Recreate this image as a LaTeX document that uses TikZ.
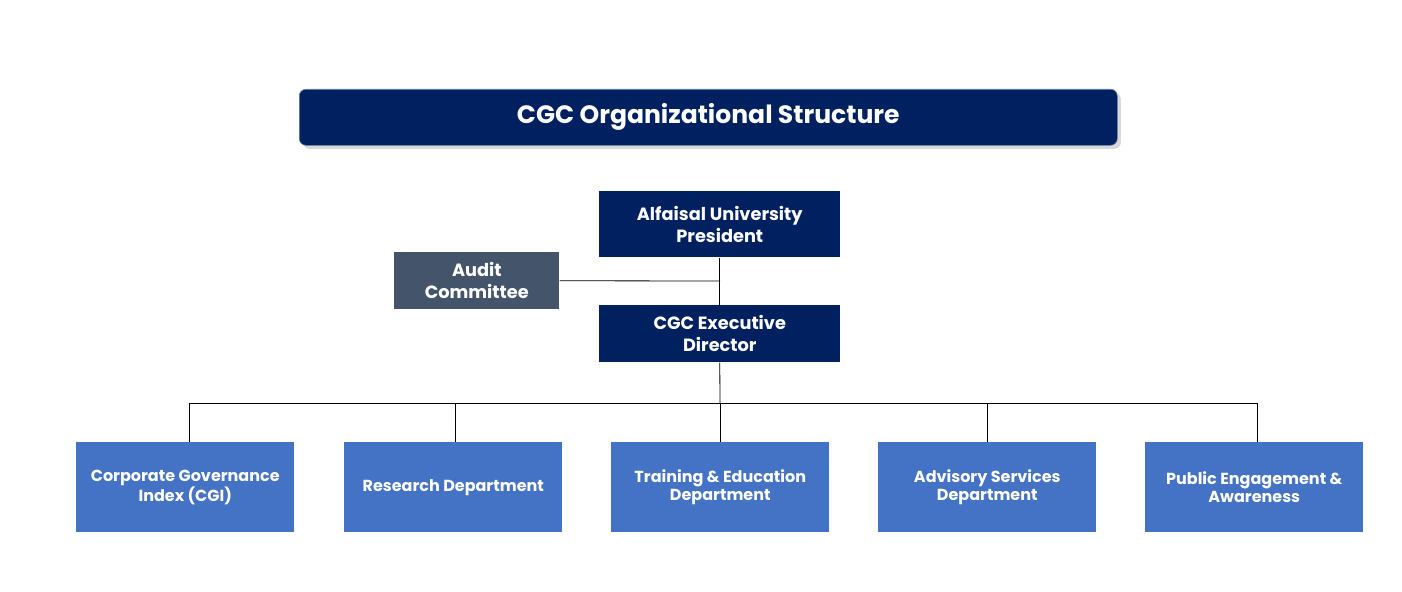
\documentclass[tikz,border=0pt]{standalone}
\usepackage{fontspec}
\setmainfont{Poppins}
\usetikzlibrary{shadows}
\definecolor{navy}{HTML}{002060}
\definecolor{slate}{HTML}{44546A}
\definecolor{blu}{HTML}{4472C4}
\begin{document}
\begin{tikzpicture}[x=0.75pt,y=-0.75pt,
  box/.style={anchor=north west,inner sep=0pt,text=white,align=center,font=\bfseries},
  ln/.style={draw=black,line width=0.6pt}]
\useasboundingbox[fill=white] (0,0) rectangle (1402,592);
\node[box,fill=navy,rounded corners=5pt,minimum width=818*0.75pt,minimum height=56*0.75pt,draw=navy!60,drop shadow={opacity=0.3},font=\bfseries\fontsize{18.8}{20}\selectfont] (title) at (299,89) {CGC Organizational Structure};
\node[box,fill=navy,minimum width=241*0.75pt,minimum height=66*0.75pt,font=\bfseries\fontsize{13.3}{16.5}\selectfont] (pres) at (599,191) {Alfaisal University\\President};
\node[box,fill=slate,minimum width=165*0.75pt,minimum height=57*0.75pt,font=\bfseries\fontsize{13.3}{16.5}\selectfont] (audit) at (394,252) {Audit\\Committee};
\node[box,fill=navy,minimum width=241*0.75pt,minimum height=57*0.75pt,font=\bfseries\fontsize{13.3}{16.5}\selectfont] (exec) at (599,305) {CGC Executive\\Director};
\tikzset{dept/.style={box,fill=blu,minimum width=218*0.75pt,minimum height=90*0.75pt,font=\bfseries\fontsize{12}{13.5}\selectfont}}
\node[dept] (d1) at (76,442) {Corporate Governance\\Index (CGI)};
\node[dept] (d2) at (344,442) {Research Department};
\node[dept] (d3) at (611,442) {Training \& Education\\Department};
\node[dept] (d4) at (878,442) {Advisory Services\\Department};
\node[dept] (d5) at (1145,442) {Public Engagement \&\\Awareness};
\coordinate (j) at (720,281);
\coordinate (bus) at (720,403);
\draw[ln] (pres.south) -- (exec.north);
\draw[ln] (audit.east) -- (j);
\draw[ln] (exec.south) -- (bus);
\draw[ln] (189,403) -- (1257,403);
\foreach \n/\x in {d1/189,d2/455,d3/720,d4/987,d5/1257}
  \draw[ln] (\x,403) -- (\n.north -| \x,403);
\end{tikzpicture}
\end{document}
